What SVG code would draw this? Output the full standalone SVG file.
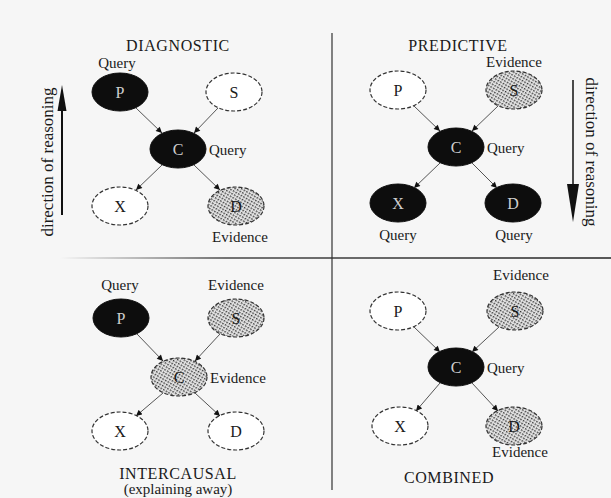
<svg xmlns="http://www.w3.org/2000/svg" width="611" height="498" viewBox="0 0 611 498">
<defs>
<style>
.t{font-family:"Liberation Serif","Times New Roman",serif;fill:#1a1a1a}
.lbl{font-size:15px}
.ttl{font-size:16px;letter-spacing:0.6px}
.nl{font-size:16px;text-anchor:middle}
.blk ellipse{fill:#0d0d0d;stroke:#0d0d0d;stroke-width:1}
.blk text{fill:#cfcfcf}
.dsh ellipse{fill:#fff;stroke:#333;stroke-width:1.2;stroke-dasharray:4 2}
.hat ellipse{fill:url(#hatch);stroke:#333;stroke-width:1.2;stroke-dasharray:4 2}
.edge line{stroke:#555;stroke-width:1;marker-end:url(#ah)}
</style>
<pattern id="hatch" width="3" height="3" patternUnits="userSpaceOnUse" patternTransform="rotate(30)">
<rect width="3" height="3" fill="#e6e6e6"/>
<rect x="0" y="0" width="1.6" height="1.4" fill="#333"/>
</pattern>
<marker id="ah" viewBox="0 0 10 10" refX="10" refY="5" markerWidth="7" markerHeight="6" markerUnits="userSpaceOnUse" orient="auto">
<path d="M0,0 L10,5 L0,10 z" fill="#111"/>
</marker>
<linearGradient id="hl" x1="60" y1="0" x2="611" y2="0" gradientUnits="userSpaceOnUse">
<stop offset="0" stop-color="#333" stop-opacity="0"/>
<stop offset="0.3" stop-color="#333" stop-opacity="0.9"/>
<stop offset="1" stop-color="#222"/>
</linearGradient>
</defs>
<rect width="611" height="498" fill="#f6f6f6"/>

<!-- dividers -->
<g id="dividers">
<line x1="332" y1="33" x2="332" y2="490" stroke="#333" stroke-width="1.2"/>
<line x1="60" y1="258" x2="611" y2="258" stroke="url(#hl)" stroke-width="1.3"/>
</g>

<!-- ========== DIAGNOSTIC ========== -->
<g id="diagnostic-labels" class="t">
<text class="ttl" x="178" y="51" text-anchor="middle">DIAGNOSTIC</text>
<text class="lbl" x="117" y="68" text-anchor="middle">Query</text>
<text class="lbl" x="209" y="155">Query</text>
<text class="lbl" x="240" y="242" text-anchor="middle">Evidence</text>
<text x="0" y="0" font-size="17" text-anchor="middle" transform="translate(53,162) rotate(-90)">direction of reasoning</text>
</g>
<g id="diag-arrow">
<line x1="62" y1="215" x2="62" y2="105" stroke="#111" stroke-width="2"/>
<polygon points="62,85 57.5,111 66.5,111" fill="#111"/>
</g>
<g id="d-P" class="blk t"><ellipse cx="120" cy="92" rx="28" ry="19"/><text class="nl" x="120" y="98">P</text></g>
<g id="d-S" class="dsh t"><ellipse cx="234" cy="92" rx="28" ry="19"/><text class="nl" x="234" y="98">S</text></g>
<g id="d-C" class="blk t"><ellipse cx="178" cy="149" rx="28" ry="19"/><text class="nl" x="178" y="155">C</text></g>
<g id="d-X" class="dsh t"><ellipse cx="120" cy="206" rx="28" ry="19"/><text class="nl" x="120" y="212">X</text></g>
<g id="d-D" class="hat t"><ellipse cx="236" cy="206" rx="28" ry="19"/><text class="nl" x="236" y="212">D</text></g>

<!-- ========== PREDICTIVE ========== -->
<g id="predictive-labels" class="t">
<text class="ttl" x="458" y="51" text-anchor="middle">PREDICTIVE</text>
<text class="lbl" x="514" y="67" text-anchor="middle">Evidence</text>
<text class="lbl" x="487" y="153">Query</text>
<text class="lbl" x="398" y="240" text-anchor="middle">Query</text>
<text class="lbl" x="514" y="240" text-anchor="middle">Query</text>
<text x="0" y="0" font-size="17" text-anchor="middle" transform="translate(586,152) rotate(90)">direction of reasoning</text>
</g>
<g id="pred-arrow">
<line x1="573" y1="80" x2="573" y2="190" stroke="#111" stroke-width="1.5"/>
<polygon points="573,222 567,184 579,184" fill="#111"/>
</g>
<g id="p-P" class="dsh t"><ellipse cx="398" cy="90" rx="28" ry="19"/><text class="nl" x="398" y="96">P</text></g>
<g id="p-S" class="hat t"><ellipse cx="514" cy="90" rx="28" ry="19"/><text class="nl" x="514" y="96">S</text></g>
<g id="p-C" class="blk t"><ellipse cx="456" cy="147" rx="28" ry="19"/><text class="nl" x="456" y="153">C</text></g>
<g id="p-X" class="blk t"><ellipse cx="398" cy="203" rx="28" ry="19"/><text class="nl" x="398" y="209">X</text></g>
<g id="p-D" class="blk t"><ellipse cx="513" cy="203" rx="28" ry="19"/><text class="nl" x="513" y="209">D</text></g>

<!-- ========== INTERCAUSAL ========== -->
<g id="intercausal-labels" class="t">
<text class="lbl" x="120" y="290" text-anchor="middle">Query</text>
<text class="lbl" x="236" y="290" text-anchor="middle">Evidence</text>
<text class="lbl" x="210" y="383">Evidence</text>
<text class="ttl" x="178" y="479" text-anchor="middle">INTERCAUSAL</text>
<text class="lbl" x="178" y="494" text-anchor="middle">(explaining away)</text>
</g>
<g id="i-P" class="blk t"><ellipse cx="121" cy="318" rx="28" ry="19"/><text class="nl" x="121" y="324">P</text></g>
<g id="i-S" class="hat t"><ellipse cx="236" cy="318" rx="28" ry="19"/><text class="nl" x="236" y="324">S</text></g>
<g id="i-C" class="hat t"><ellipse cx="179" cy="377" rx="28" ry="19"/><text class="nl" x="179" y="383">C</text></g>
<g id="i-X" class="dsh t"><ellipse cx="120" cy="431" rx="28" ry="19"/><text class="nl" x="120" y="437">X</text></g>
<g id="i-D" class="dsh t"><ellipse cx="236" cy="431" rx="28" ry="19"/><text class="nl" x="236" y="437">D</text></g>

<!-- ========== COMBINED ========== -->
<g id="combined-labels" class="t">
<text class="lbl" x="521" y="280" text-anchor="middle">Evidence</text>
<text class="lbl" x="487" y="373">Query</text>
<text class="lbl" x="520" y="457" text-anchor="middle">Evidence</text>
<text class="ttl" x="449" y="483" text-anchor="middle">COMBINED</text>
</g>
<g id="c-P" class="dsh t"><ellipse cx="398" cy="311" rx="28" ry="19"/><text class="nl" x="398" y="317">P</text></g>
<g id="c-S" class="hat t"><ellipse cx="515" cy="311" rx="28" ry="19"/><text class="nl" x="515" y="317">S</text></g>
<g id="c-C" class="blk t"><ellipse cx="456" cy="367" rx="28" ry="19"/><text class="nl" x="456" y="373">C</text></g>
<g id="c-X" class="dsh t"><ellipse cx="400" cy="426" rx="28" ry="19"/><text class="nl" x="400" y="432">X</text></g>
<g id="c-D" class="hat t"><ellipse cx="514" cy="426" rx="28" ry="19"/><text class="nl" x="514" y="432">D</text></g>

<!-- connectors -->
<g id="connectors" class="edge">
<line x1="136" y1="108" x2="162" y2="133"/>
<line x1="218" y1="108" x2="194" y2="133"/>
<line x1="162" y1="165" x2="136" y2="190"/>
<line x1="194" y1="165" x2="220" y2="190"/>

<line x1="414" y1="106" x2="440" y2="131"/>
<line x1="498" y1="106" x2="472" y2="131"/>
<line x1="440" y1="163" x2="414" y2="188"/>
<line x1="472" y1="163" x2="497" y2="188"/>

<line x1="137" y1="334" x2="163" y2="361"/>
<line x1="220" y1="334" x2="195" y2="361"/>
<line x1="163" y1="393" x2="136" y2="416"/>
<line x1="195" y1="393" x2="220" y2="416"/>

<line x1="414" y1="327" x2="440" y2="352"/>
<line x1="499" y1="327" x2="472" y2="352"/>
<line x1="440" y1="383" x2="416" y2="411"/>
<line x1="472" y1="383" x2="498" y2="411"/>
</g>
</svg>
